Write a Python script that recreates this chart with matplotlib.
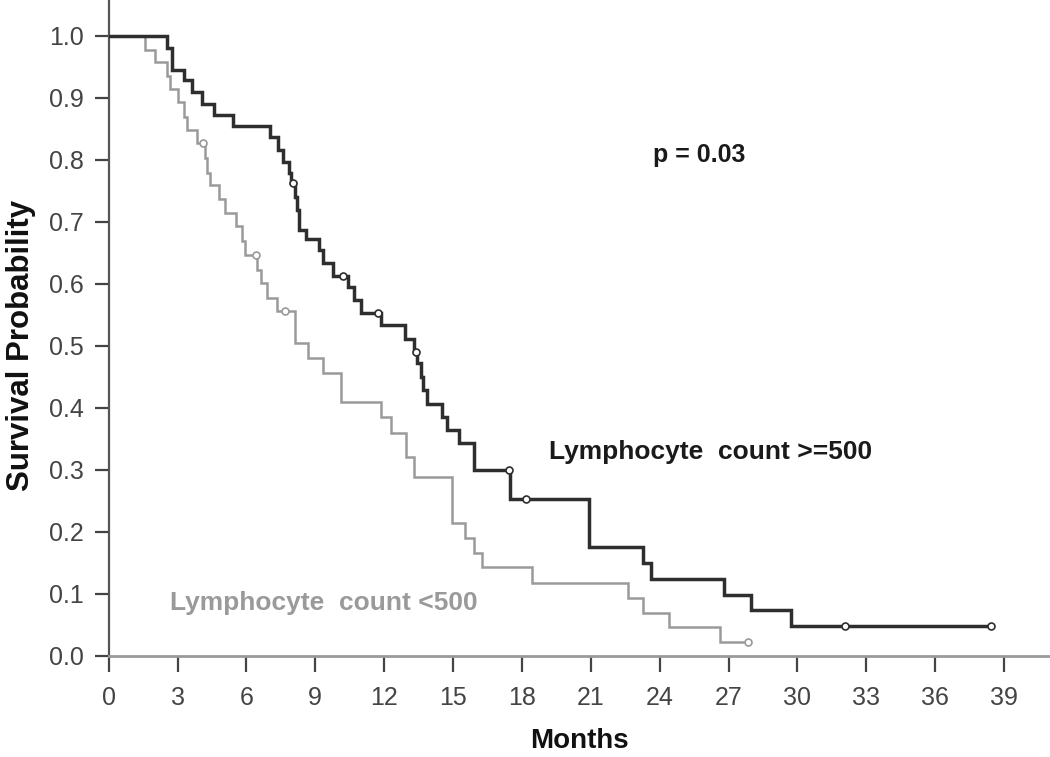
import matplotlib
matplotlib.use("Agg")
import matplotlib.pyplot as plt
import numpy as np

# ---- data ----
t_hi = [0, 2.53, 2.75, 3.26, 3.62, 4.06, 4.57, 5.42, 7.01, 7.38, 7.6, 7.86, 7.95,
        8.12, 8.2, 8.3, 8.6, 9.15, 9.35, 9.75, 10.42, 10.7, 11.0, 11.88, 12.9,
        13.3, 13.45, 13.6, 13.7, 13.85, 14.5, 14.72, 15.24, 15.9, 17.5, 20.93,
        23.27, 23.63, 26.8, 27.97, 29.72]
s_hi = [1.0, 0.98, 0.945, 0.929, 0.910, 0.891, 0.873, 0.854, 0.837, 0.816, 0.797,
        0.779, 0.763, 0.74, 0.72, 0.687, 0.672, 0.655, 0.633, 0.613, 0.595, 0.574,
        0.553, 0.534, 0.512, 0.491, 0.472, 0.45, 0.429, 0.407, 0.386, 0.365, 0.343,
        0.30, 0.253, 0.176, 0.150, 0.124, 0.098, 0.074, 0.049]
cens_hi = [8.05, 10.2, 11.73, 13.4, 17.43, 18.17, 32.06, 38.43]
end_hi = 38.43

t_lo = [0, 1.58, 2.02, 2.55, 2.65, 3.04, 3.3, 3.4, 3.84, 4.21, 4.3, 4.4, 4.8, 5.08,
        5.55, 5.81, 5.92, 6.47, 6.62, 6.91, 7.35, 8.12, 8.66, 9.32, 10.12, 11.85,
        12.31, 12.97, 13.3, 14.94, 15.53, 15.9, 16.26, 18.45, 22.63, 23.27, 24.42,
        26.62]
s_lo = [1.0, 0.977, 0.958, 0.935, 0.914, 0.894, 0.87, 0.848, 0.827, 0.803, 0.779,
        0.760, 0.737, 0.714, 0.693, 0.670, 0.647, 0.623, 0.601, 0.577, 0.556, 0.504,
        0.481, 0.456, 0.410, 0.386, 0.359, 0.321, 0.289, 0.214, 0.190, 0.166, 0.144,
        0.117, 0.093, 0.070, 0.046, 0.022]
cens_lo = [4.13, 6.43, 7.68, 27.85]
end_lo = 27.85

x_ticks = list(range(0, 40, 3))
y_ticks = [0.0, 0.1, 0.2, 0.3, 0.4, 0.5, 0.6, 0.7, 0.8, 0.9, 1.0]

dark = "#2e2e2e"
grey = "#9a9a9a"

fig = plt.figure(figsize=(10.5, 7.57), dpi=100)
ax = fig.add_axes([0.1035, 0.1335, 0.8965, 0.8665])


def km(ax, t, s, cens, end, color, lw):
    tt = list(t) + [end]
    ss = list(s) + [s[-1]]
    ax.step(tt, ss, where="post", color=color, lw=lw, solid_joinstyle="miter", zorder=3)
    t_arr = np.array(t)
    s_arr = np.array(s)
    cy = [s_arr[np.searchsorted(t_arr, c, side="right") - 1] for c in cens]
    ax.plot(cens, cy, ls="none", marker="o", ms=5, mfc="white", mec=color,
            mew=1.2, zorder=4)


km(ax, t_lo, s_lo, cens_lo, end_lo, grey, 1.8)
km(ax, t_hi, s_hi, cens_hi, end_hi, dark, 2.5)

ax.set_xlim(0, 41.0)
ax.set_ylim(0, 1.058)
ax.set_xticks(x_ticks)
ax.set_yticks(y_ticks)
ax.set_yticklabels([f"{v:.1f}" for v in y_ticks], fontsize=18,
                   family=["Liberation Sans"], color="#333333")
ax.set_xticklabels([str(v) for v in x_ticks], fontsize=18,
                   family=["Liberation Sans"], color="#222222")

for s in ["top", "right"]:
    ax.spines[s].set_visible(False)
ax.spines["left"].set_color("#555555")
ax.spines["left"].set_linewidth(1.6)
ax.spines["bottom"].set_color("#9a9a9a")
ax.spines["bottom"].set_linewidth(2.0)
ax.tick_params(axis="x", direction="out", length=11.5, width=1.6, colors="#444444", pad=10)
ax.tick_params(axis="y", direction="out", length=10, width=1.6, colors="#444444", pad=8)

ax.set_xlabel("Months", fontsize=20, fontweight="bold",
              family=["Liberation Sans"], color="#111111")
ax.xaxis.set_label_coords(0.5, -0.11)
ax.set_ylabel("Survival Probability", fontsize=22.5, fontweight="bold",
              family=["Liberation Sans"], color="#111111")
ax.yaxis.set_label_coords(-0.077, 0.474)

ax.text(23.7, 0.808, "p = 0.03", fontsize=18, fontweight="bold",
        family=["Liberation Sans"], color="#1a1a1a", va="center", ha="left")
ax.text(19.19, 0.329, "Lymphocyte  count >=500", fontsize=19, fontweight="bold",
        family=["Liberation Sans"], color="#1a1a1a", va="center", ha="left")
ax.text(2.67, 0.085, "Lymphocyte  count <500", fontsize=19, fontweight="bold",
        family=["Liberation Sans"], color=grey, va="center", ha="left")

fig.savefig("out.png", dpi=100)
